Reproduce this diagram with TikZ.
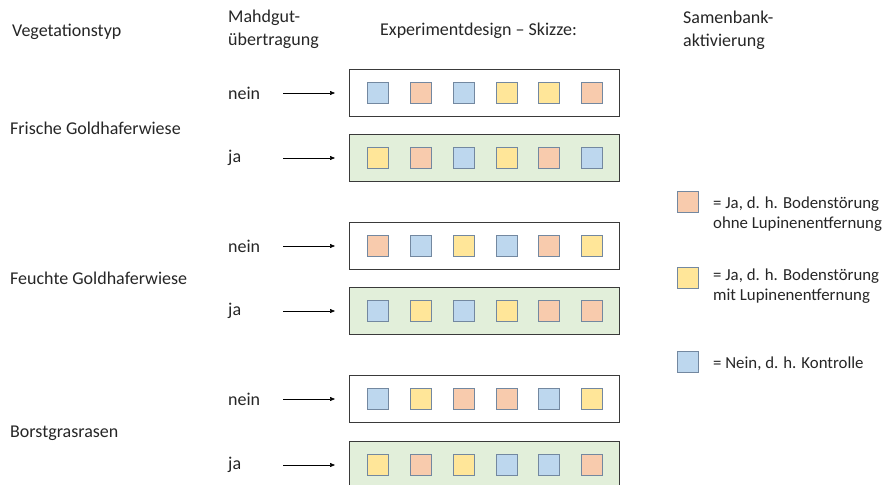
\documentclass[tikz,border=0pt]{standalone}
\usepackage{fontspec}
\setmainfont{Carlito}
\usetikzlibrary{arrows.meta}
\definecolor{bfill}{HTML}{BDD7EE}
\definecolor{ofill}{HTML}{F8CBAD}
\definecolor{yfill}{HTML}{FFE699}
\definecolor{gfill}{HTML}{E2EFDA}
\definecolor{sqedge}{HTML}{7388A0}
\definecolor{boxedge}{HTML}{3A3A3A}
\tikzset{
  sq/.style={draw=sqedge, line width=1.1pt, minimum size=21pt, inner sep=0pt},
  B/.style={sq, fill=bfill},
  O/.style={sq, fill=ofill},
  Y/.style={sq, fill=yfill},
  rowbox/.style={draw=boxedge, line width=1.3pt, minimum width=270pt, minimum height=47pt, inner sep=0pt, anchor=west},
  neinbox/.style={rowbox, fill=white},
  jabox/.style={rowbox, fill=gfill},
  lbl/.style={font=\fontsize{18}{22}\selectfont, anchor=west, inner sep=0pt, text=black!85},
  hdr/.style={font=\fontsize{18}{23}\selectfont, anchor=west, inner sep=0pt, align=left, text=black!85},
  leg/.style={font=\fontsize{16.8}{20}\selectfont, anchor=west, inner sep=0pt, align=left, text=black!85},
  arr/.style={-{Triangle[length=5pt,width=4pt]}, line width=0.6pt, shorten >=14pt},
}
\begin{document}
\begin{tikzpicture}[x=1pt,y=-1pt]
\clip (0,0) rectangle (885,484);
\fill[white] (0,0) rectangle (885,484);
% headers
\node[hdr] (h1) at (12,32) {Vegetationstyp};
\node[hdr] (h2) at (228,29) {Mahdgut-\\übertragung};
\node[hdr] (h3) at (380,31) {Experimentdesign – Skizze:};
\node[hdr] (h4) at (683,30) {Samenbank-\\aktivierung};
% vegetation types
\node[lbl] (v1) at (10,128) {Frische Goldhaferwiese};
\node[lbl] (v2) at (10,278) {Feuchte Goldhaferwiese};
\node[lbl] (v3) at (10,433) {Borstgrasrasen};
% rows
\foreach \i/\y/\kind/\lab/\a/\b/\c/\d/\e/\f in {
  1/93/neinbox/nein/B/O/B/Y/Y/O,
  2/158/jabox/ja/Y/O/B/Y/O/B,
  3/246/neinbox/nein/O/B/Y/B/O/Y,
  4/311/jabox/ja/B/Y/B/Y/O/O,
  5/399/neinbox/nein/B/Y/O/O/B/Y,
  6/465/jabox/ja/Y/O/Y/B/B/O}{
  \node[lbl] (l\i) at (228,\y) {\lab};
  \node[\kind] (r\i) at (349,\y) {};
  \coordinate (s\i) at (283,\y);
  \draw[arr] (s\i) -- (r\i.west);
  \node[\a] (q\i-1) at (378,\y) {};
  \node[\b] (q\i-2) at (421,\y) {};
  \node[\c] (q\i-3) at (464,\y) {};
  \node[\d] (q\i-4) at (507,\y) {};
  \node[\e] (q\i-5) at (549,\y) {};
  \node[\f] (q\i-6) at (592,\y) {};
}
% legend
\node[O] (k1) at (688,202) {};
\node[leg] (t1) at (713,214) {= Ja, d. h. Bodenstörung\\ohne Lupinenentfernung};
\node[Y] (k2) at (688,278) {};
\node[leg] (t2) at (713,286) {= Ja, d. h. Bodenstörung\\mit Lupinenentfernung};
\node[B] (k3) at (688,362) {};
\node[leg] (t3) at (713,364) {= Nein, d. h. Kontrolle};
\end{tikzpicture}
\end{document}
